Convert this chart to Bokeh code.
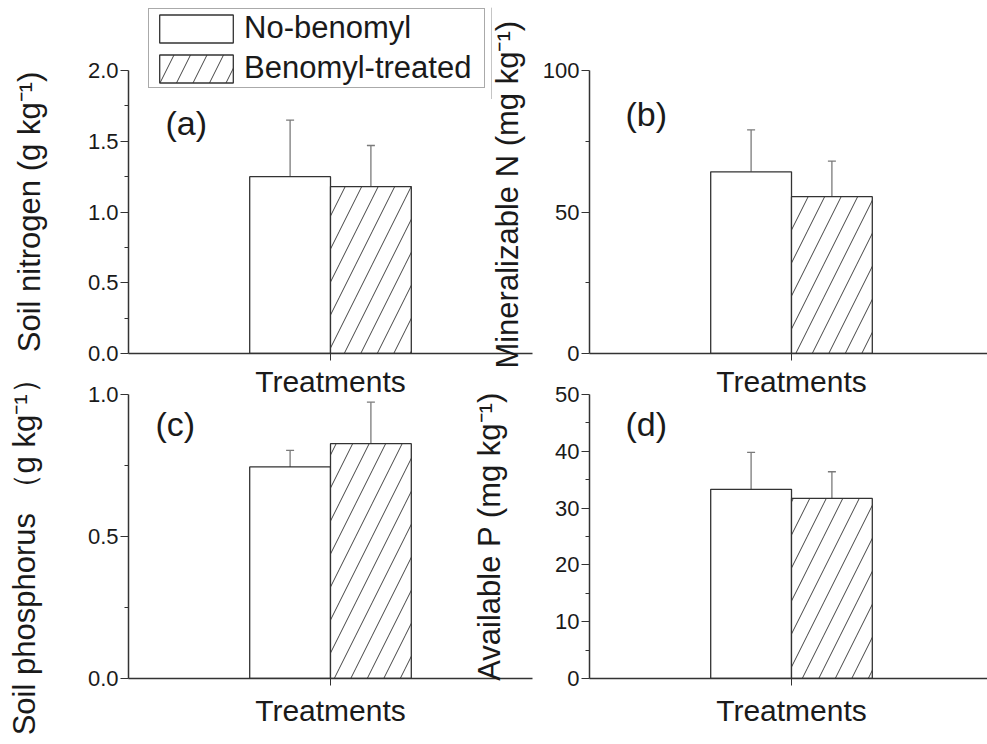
from bokeh.plotting import figure
from bokeh.layouts import column, row
from bokeh.models import (Range1d, FixedTicker, Whisker, TeeHead, ColumnDataSource,
                          Legend, LegendItem, Label, NumeralTickFormatter)
from bokeh.embed import file_html
from bokeh.resources import INLINE

# ---- data ----
treatments = ["No-benomyl", "Benomyl-treated"]
x_title = "Treatments"
soil_nitrogen = [1.25, 1.18]
soil_nitrogen_err = [0.40, 0.29]
mineralizable_n = [64.2, 55.4]
mineralizable_n_err = [14.8, 12.6]
soil_phosphorus = [0.745, 0.827]
soil_phosphorus_err = [0.058, 0.146]
available_p = [33.3, 31.7]
available_p_err = [6.5, 4.7]

ticks_a = [0.0, 0.5, 1.0, 1.5, 2.0]
ticks_b = [0, 50, 100]
ticks_c = [0.0, 0.5, 1.0]
ticks_d = [0, 10, 20, 30, 40, 50]

# ---- styling ----
FONT = "Liberation Sans"
INK = "#1a1a1a"
AXIS = "#333333"
GROUP_CENTER = 1
BAR_W = 0.4
PX_PER_X = 202.0
NB = "\u00a0"
PLAIN = dict(fill_color="white", line_color=AXIS, line_width=1.3)
HATCH = dict(fill_color="white", line_color=AXIS, line_width=1.3,
             hatch_pattern="/", hatch_color="#444444", hatch_scale=33, hatch_weight=1.0)


def bar_x(n):
    return [GROUP_CENTER + (i - (n - 1) / 2) * BAR_W for i in range(n)]


def panel(vals, errs, yticks, fmt, ylabel, tag, tag_dx, tag_fy, *, width, height,
          bl, br, bt, bb, ylab_standoff, xlab_standoff, margin):
    frame_w = width - bl - br
    x_end = frame_w / PX_PER_X
    ymax = yticks[-1]
    p = figure(width=width, height=height, x_range=Range1d(0, x_end),
               y_range=Range1d(0, ymax), output_backend="svg", toolbar_location=None,
               min_border_left=bl, min_border_right=br, min_border_top=bt,
               min_border_bottom=bb, margin=margin, background_fill_color=None,
               border_fill_color=None, outline_line_color=None)
    p.grid.visible = False

    xs = bar_x(len(vals))
    src = ColumnDataSource(dict(base=xs, lower=vals,
                                upper=[v + e for v, e in zip(vals, errs)]))
    p.add_layout(Whisker(source=src, base="base", lower="lower", upper="upper",
                         line_color="#7a7a7a", line_width=1.3,
                         upper_head=TeeHead(size=8, line_color="#7a7a7a", line_width=1.3),
                         lower_head=None))

    s0 = ColumnDataSource(dict(x=[xs[0]], top=[vals[0]], name=[treatments[0]]))
    s1 = ColumnDataSource(dict(x=[xs[1]], top=[vals[1]], name=[treatments[1]]))
    p.vbar(x="x", top="top", width=BAR_W, bottom=0, source=s0, **PLAIN)
    p.vbar(x="x", top="top", width=BAR_W, bottom=0, source=s1, **HATCH)

    yax = p.yaxis[0]
    yax.ticker = FixedTicker(ticks=yticks,
                             minor_ticks=[(a + b) / 2 for a, b in zip(yticks[:-1], yticks[1:])])
    yax.formatter = NumeralTickFormatter(format=fmt)
    yax.axis_label = ylabel
    yax.axis_label_text_font = FONT
    yax.axis_label_text_font_size = "31px"
    yax.axis_label_text_font_style = "normal"
    yax.axis_label_text_color = INK
    yax.axis_label_standoff = ylab_standoff
    yax.major_label_text_font = FONT
    yax.major_label_text_font_size = "22px"
    yax.major_label_text_color = INK
    yax.major_label_standoff = 2
    yax.major_tick_out = 8
    yax.major_tick_in = 0
    yax.minor_tick_out = 4
    yax.minor_tick_in = 0
    yax.axis_line_color = AXIS
    yax.axis_line_width = 1.5
    yax.major_tick_line_color = AXIS
    yax.minor_tick_line_color = AXIS

    xax = p.xaxis[0]
    xax.ticker = FixedTicker(ticks=[GROUP_CENTER], minor_ticks=[])
    xax.major_label_overrides = {GROUP_CENTER: x_title}
    xax.major_label_text_font = FONT
    xax.major_label_text_font_size = "30px"
    xax.major_label_text_color = INK
    xax.major_label_standoff = xlab_standoff
    xax.major_tick_out = 7
    xax.major_tick_in = 0
    xax.axis_line_color = AXIS
    xax.axis_line_width = 1.5
    xax.major_tick_line_color = AXIS

    p.add_layout(Label(x=tag_dx / PX_PER_X, y=tag_fy * ymax, text=tag,
                       text_font=FONT, text_font_size="34px", text_baseline="top",
                       text_color=INK))
    return p


# ---- legend (own small canvas laid over panel a) ----
LEG_TOP, LEG_LEFT, LEG_H = 7, 147, 92
lg = figure(width=345, height=LEG_H, x_range=Range1d(-3, -2), y_range=Range1d(0, 1),
            output_backend="svg", toolbar_location=None, min_border=0,
            x_axis_location=None, y_axis_location=None, outline_line_color=None,
            background_fill_color=None, border_fill_color=None,
            margin=(LEG_TOP, 0, 0, LEG_LEFT))
lg.grid.visible = False
lx = bar_x(len(treatments))
# the two series' bars, kept outside this canvas's visible range: they only feed the legend
e0 = lg.vbar(x=[lx[0]], top=[soil_nitrogen[0]], width=BAR_W, **PLAIN)
e1 = lg.vbar(x=[lx[1]], top=[soil_nitrogen[1]], width=BAR_W, **HATCH)
lg.add_layout(Legend(items=[LegendItem(label=treatments[0], renderers=[e0]),
                            LegendItem(label=treatments[1], renderers=[e1])],
                     location="top_left", glyph_width=92, glyph_height=35,
                     label_height=28, label_width=239, label_standoff=2,
                     spacing=4, padding=1, margin=1,
                     border_line_color="#555555", border_line_width=1.5,
                     label_text_font=FONT, label_text_font_size="31px",
                     label_text_color=INK, background_fill_color="white"))

shift = -(LEG_TOP + LEG_H)
pa = panel(soil_nitrogen, soil_nitrogen_err, ticks_a, "0.0",
           "Soil nitrogen (g kg\u207b\u00b9)", "(a)", 37, 0.880,
           width=548, height=408, bl=128, br=16, bt=70, bb=55,
           ylab_standoff=38, xlab_standoff=4, margin=(shift, 0, 0, 0))
pb = panel(mineralizable_n, mineralizable_n_err, ticks_b, "0",
           NB * 4 + "Mineralizable N (mg kg\u207b\u00b9)", "(b)", 36, 0.912,
           width=519, height=408, bl=121, br=0, bt=70, bb=55,
           ylab_standoff=15, xlab_standoff=4, margin=(shift, 0, 0, -80))
pc = panel(soil_phosphorus, soil_phosphorus_err, ticks_c, "0.0",
           "Soil phosphorus \uff08g kg\u207b\u00b9\uff09" + NB * 3, "(c)", 27, 0.962,
           width=548, height=406, bl=128, br=16, bt=56, bb=66,
           ylab_standoff=43, xlab_standoff=8, margin=(-70, 0, 0, 0))
pd = panel(available_p, available_p_err, ticks_d, "0",
           "Available P (mg kg\u207b\u00b9)", "(d)", 36, 0.962,
           width=519, height=406, bl=121, br=0, bt=56, bb=66,
           ylab_standoff=45, xlab_standoff=8, margin=(-70, 0, 0, -80))

layout = column(lg, row(pa, pb), row(pc, pd))

with open("out.html", "w") as f:
    f.write(file_html(layout, INLINE))
